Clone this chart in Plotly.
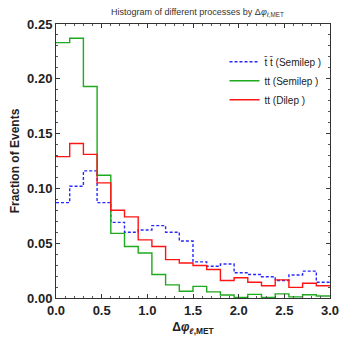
import plotly.graph_objects as go

bin_width = 0.15
bin_start = 0.0
tbar_semilep = [0.087, 0.102, 0.116, 0.087, 0.069, 0.060, 0.062, 0.066, 0.060, 0.052,
                0.033, 0.029, 0.031, 0.023, 0.0215, 0.0194, 0.016, 0.021, 0.0245, 0.0144]
tt_semilep = [0.233, 0.237, 0.193, 0.112, 0.059, 0.047, 0.041, 0.0215, 0.012, 0.0062,
              0.0106, 0.0056, 0.0027, 0.0005, 0.0033, 0.0005, 0.0038, 0.001, 0.003, 0.0018]
tt_dilep = [0.129, 0.141, 0.131, 0.105, 0.080, 0.074, 0.053, 0.047, 0.035, 0.032,
            0.0297, 0.026, 0.016, 0.0185, 0.0144, 0.0112, 0.0165, 0.0097, 0.0135, 0.0112]
series_names = ["t\u0304 t\u0304 (Semilep )", "tt (Semilep )", "tt (Dilep )"]
x_ticks = [0.0, 0.5, 1.0, 1.5, 2.0, 2.5, 3.0]
y_ticks = [0.0, 0.05, 0.10, 0.15, 0.20, 0.25]
x_tick_labels = ["0.0", "0.5", "1.0", "1.5", "2.0", "2.5", "3.0"]
y_tick_labels = ["0.00", "0.05", "0.10", "0.15", "0.20", "0.25"]

def steps(vals):
    n = len(vals)
    xs = [bin_start + i * bin_width for i in range(n)] + [bin_start + n * bin_width]
    ys = list(vals) + [vals[-1]]
    return xs, ys

fig = go.Figure()
styles = [("rgb(40,40,255)", "3px,2px"), ("rgb(30,170,30)", "solid"), ("rgb(255,20,20)", "solid")]
for vals, name, (col, dash) in zip([tbar_semilep, tt_semilep, tt_dilep], series_names, styles):
    xs, ys = steps(vals)
    fig.add_trace(go.Scatter(x=xs, y=ys, mode="lines", name=name,
                             line=dict(shape="hv", color=col, width=1.4, dash=dash)))

axis_common = dict(showgrid=False, zeroline=False, showline=True, linecolor="#333",
                   linewidth=1, mirror="allticks", ticks="inside", ticklen=4,
                   tickcolor="#333",
                   tickfont=dict(family="Liberation Sans, Arial", size=13, color="#222", weight="bold"))

fig.update_xaxes(range=[0, 3.0], tickvals=x_ticks, ticktext=x_tick_labels,
                 minor=dict(dtick=0.1, ticks="inside", ticklen=2, tickcolor="#555"),
                 title=dict(text="<b>Δ<i>φ</i><sub><i>ℓ</i>,MET</sub></b>",
                            font=dict(family="Liberation Sans, Arial", size=12, color="#222"),
                            standoff=6),
                 **axis_common)
fig.update_yaxes(range=[0, 0.25], tickvals=y_ticks, ticktext=y_tick_labels,
                 minor=dict(dtick=0.01, ticks="inside", ticklen=2, tickcolor="#555"),
                 title=dict(text="<b>Fraction of Events</b>",
                            font=dict(family="Liberation Sans, Arial", size=12, color="#222"),
                            standoff=4),
                 **axis_common)

fig.update_layout(
    width=350, height=343,
    margin=dict(l=56, r=11, t=24, b=36),
    paper_bgcolor="white", plot_bgcolor="white",
    title=dict(text="Histogram of different processes by Δ<i>φ</i><sub><i>ℓ</i>,MET</sub>",
               font=dict(family="Liberation Sans, Arial", size=9, color="#333"),
               x=0.564, xanchor="center", y=0.975, yanchor="top"),
    legend=dict(x=0.615, y=0.915, xanchor="left", yanchor="top",
                bgcolor="rgba(0,0,0,0)", font=dict(family="Liberation Sans, Arial", size=10, color="#222"),
                tracegroupgap=0, itemwidth=30),
    showlegend=True,
)

fig.write_html("out.html")
